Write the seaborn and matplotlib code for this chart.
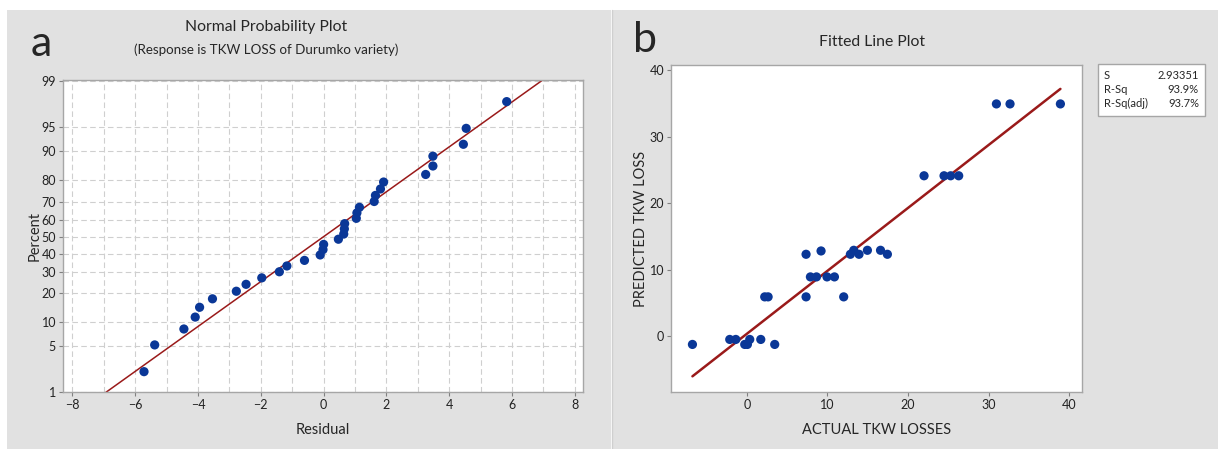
import numpy as np
import pandas as pd
import matplotlib
matplotlib.use("Agg")
import matplotlib.pyplot as plt
import seaborn as sns
from matplotlib.patches import Rectangle
from matplotlib.ticker import MultipleLocator, NullLocator
from statistics import NormalDist

# ---------- panel a : residuals for the normal probability plot ----------
residuals = [-5.72, -5.38, -4.45, -4.09, -3.95, -3.54, -2.78, -2.47, -1.97, -1.41,
             -1.17, -0.61, -0.11, -0.02, 0.00, 0.47, 0.64, 0.66, 0.67, 1.04,
             1.06, 1.14, 1.61, 1.65, 1.81, 1.91, 3.25, 3.48, 3.48, 4.45,
             4.54, 5.83]
pct_ticks = [1, 5, 10, 20, 30, 40, 50, 60, 70, 80, 90, 95, 99]
resid_ticks = [-8, -6, -4, -2, 0, 2, 4, 6, 8]

# ---------- panel b : actual vs predicted TKW loss ----------
actual_loss = [-6.74, -2.11, -1.36, -0.25, 0.08, 0.37, 1.74, 3.47, 2.23, 2.65,
               7.36, 7.36, 9.22, 7.90, 8.65, 9.96, 10.88, 12.03, 12.86, 13.28,
               13.93, 14.97, 16.60, 17.45, 22.00, 24.48, 25.30, 26.30, 30.98, 32.67,
               38.92]
predicted_loss = [-1.25, -0.5, -0.5, -1.25, -1.25, -0.5, -0.5, -1.25, 5.9, 5.9,
                  5.9, 12.3, 12.8, 8.9, 8.9, 8.9, 8.9, 5.9, 12.3, 12.9,
                  12.3, 12.9, 12.9, 12.3, 24.1, 24.1, 24.1, 24.1, 34.9, 34.9,
                  34.9]
stat_names = ["S", "R-Sq", "R-Sq(adj)"]
stat_values = ["2.93351", "93.9%", "93.7%"]

W, H = 1218, 449
DOT = "#0a3797"
LINE = "#9a1a1a"
PANEL = "#e1e1e1"
SPINE = "#a6a6a6"

sns.set_theme(style="white")
plt.rcParams["font.family"] = ["Lato", "DejaVu Sans"]

fig = plt.figure(figsize=(W / 100, H / 100), dpi=100)
fig.patch.set_facecolor("white")


def fx(px):
    return px / W


def fy(py):
    return 1 - py / H


# grey panel backgrounds
fig.add_artist(Rectangle((fx(7), 0), fx(604), fy(10), transform=fig.transFigure,
                         facecolor=PANEL, edgecolor="none", zorder=-5))
fig.add_artist(Rectangle((fx(612), 0), fx(606), fy(10), transform=fig.transFigure,
                         facecolor=PANEL, edgecolor="none", zorder=-5))

nd = NormalDist()


def probit(p):
    p = np.clip(np.asarray(p, dtype=float) / 100.0, 1e-9, 1 - 1e-9)
    return np.vectorize(nd.inv_cdf, otypes=[float])(p)


def inv_probit(z):
    return np.vectorize(nd.cdf, otypes=[float])(np.asarray(z, dtype=float)) * 100.0


def style_axes(ax):
    for s in ax.spines.values():
        s.set_color(SPINE)
        s.set_linewidth(1.0)
    ax.set_facecolor("white")
    ax.tick_params(which="major", direction="out", length=3, width=0.8,
                   color="#808080", labelsize=9, labelcolor="#222222", pad=2)
    ax.tick_params(axis="both", which="major", bottom=True, left=True)


# ================= panel a =================
n = len(residuals)
res_sorted = np.sort(residuals)
ranks = np.arange(1, n + 1)
df_a = pd.DataFrame({"resid": res_sorted,
                     "pct": 100 * (ranks - 0.3) / (n + 0.4)})

ax1 = fig.add_axes([fx(63), fy(392), fx(583 - 63), (392 - 80) / H])
ax1.set_yscale("function", functions=(probit, inv_probit))
ax1.set_xlim(-8.3, 8.26)
ax1.set_ylim(1, 99.05)
ax1.set_xticks(resid_ticks)
ax1.xaxis.set_minor_locator(MultipleLocator(1))
ax1.set_yticks(pct_ticks)
ax1.set_yticklabels([str(t) for t in pct_ticks])
ax1.yaxis.set_minor_locator(NullLocator())
ax1.grid(True, which="both", axis="x", color="#cfcfcf", linestyle=(0, (5, 3)), lw=0.8)
ax1.grid(True, which="major", axis="y", color="#cfcfcf", linestyle=(0, (5, 3)), lw=0.8)
ax1.tick_params(which="minor", length=0)
ax1.set_axisbelow(True)

# fitted normal line (straight on probability scale)
mu, sd = np.mean(residuals), np.std(residuals, ddof=1)
line_pct = [0.5, 99.5]
line_x = [mu + sd * nd.inv_cdf(p / 100) for p in line_pct]
sns.lineplot(x=line_x, y=line_pct, ax=ax1, color=LINE, lw=1.1, zorder=2)
sns.scatterplot(data=df_a, x="resid", y="pct", ax=ax1, color=DOT, s=44,
                edgecolor="none", zorder=3)
style_axes(ax1)
ax1.set_xlabel("Residual", fontsize=10.5, labelpad=9)
ax1.set_ylabel("Percent", fontsize=10.5, labelpad=0)

fig.text(fx(266), fy(27), "Normal Probability Plot", ha="center", va="center", fontsize=11.3)
fig.text(fx(266), fy(50), "(Response is TKW LOSS of Durumko variety)", ha="center",
         va="center", fontsize=9.6)
fig.text(fx(41), fy(44), "a", ha="center", va="center", fontsize=31)

# ================= panel b =================
df_b = pd.DataFrame({"actual": actual_loss, "predicted": predicted_loss})
ax2 = fig.add_axes([fx(671), fy(392), fx(1082 - 671), (392 - 65) / H])
sns.regplot(data=df_b, x="actual", y="predicted", ax=ax2, ci=None, scatter=False,
            line_kws={"color": LINE, "lw": 1.8, "zorder": 2})
sns.scatterplot(data=df_b, x="actual", y="predicted", ax=ax2, color=DOT, s=44,
                edgecolor="none", zorder=3)
ax2.set_xlim(-9.4, 41.6)
ax2.set_ylim(-8.4, 40.75)
ax2.set_xticks([0, 10, 20, 30, 40])
ax2.set_yticks([0, 10, 20, 30, 40])
style_axes(ax2)
ax2.set_xlabel("ACTUAL TKW LOSSES", fontsize=10.5, labelpad=9)
ax2.set_ylabel("PREDICTED TKW LOSS", fontsize=10.5, labelpad=1)

fig.text(fx(872), fy(42), "Fitted Line Plot", ha="center", va="center", fontsize=11.3)
fig.text(fx(645), fy(40), "b", ha="center", va="center", fontsize=31)

# stats box
fig.add_artist(Rectangle((fx(1098), fy(116)), fx(107), (116 - 64) / H,
                         transform=fig.transFigure, facecolor="white",
                         edgecolor=SPINE, lw=1.0))
for i, (nm, val) in enumerate(zip(stat_names, stat_values)):
    yy = fy(75.5 + 14 * i)
    fig.text(fx(1104), yy, nm, ha="left", va="center", fontsize=8)
    fig.text(fx(1199), yy, val, ha="right", va="center", fontsize=8)

# separator between the two panels
fig.add_artist(plt.Line2D([fx(611.5), fx(611.5)], [0, fy(10)], transform=fig.transFigure,
                          color="#cfcfcf", lw=1.0))

fig.savefig("out.png", dpi=100)
